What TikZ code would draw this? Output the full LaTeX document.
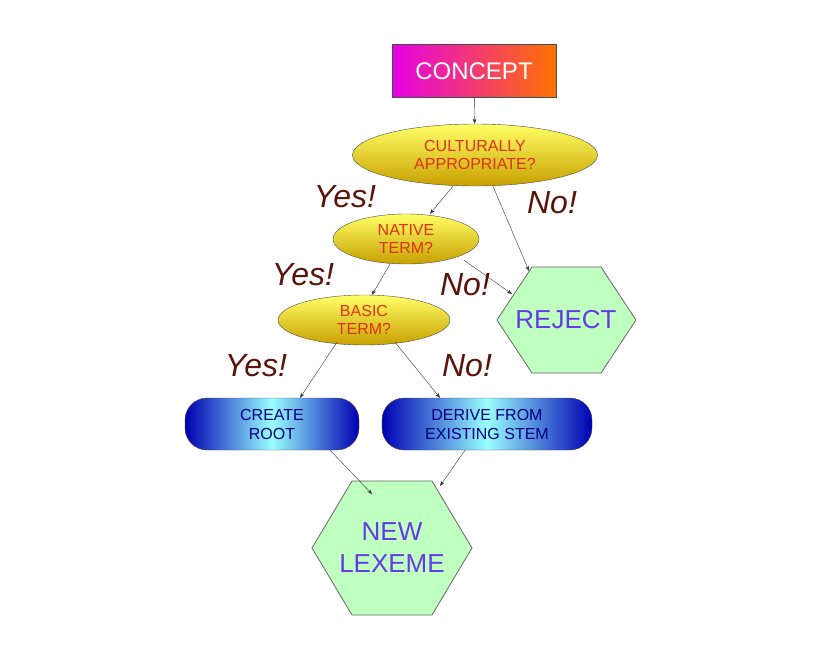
\documentclass[tikz,border=0pt]{standalone}
\usepackage{fontspec}
\setmainfont{Liberation Sans}
\usetikzlibrary{arrows.meta, positioning, shapes.geometric, calc}
\definecolor{ans_brown}{RGB}{90, 20, 10}
\definecolor{lex_purple}{RGB}{100, 60, 230}
\definecolor{q_red}{RGB}{220, 50, 20}
\definecolor{q_gold}{RGB}{200, 160, 0}
\begin{document}
\begin{tikzpicture}[x=1pt, y=-1pt,
        qs/.style={ellipse, draw=black!70, top color=yellow!60!white,
                   bottom color=q_gold, text=q_red,
                   inner sep=0pt, align=center, font=\fontsize{16}{18}\selectfont},
        act/.style={rectangle, rounded corners=22pt, draw=black!70,
                    left color=blue!70!black, right color=blue!70!black,
                    middle color=cyan!40!white, text=blue!50!black,
                    inner sep=0pt, align=center, font=\fontsize{16}{19}\selectfont},
        ans/.style={font=\itshape\fontsize{32}{34}\selectfont, text=ans_brown},
        hexfill/.style={draw=black!60, fill=green!25!white, line width=0.8pt},
        lbl/.style={text=lex_purple, align=center},
        arr/.style={-{Stealth[length=5pt]}, black!80}]
  \useasboundingbox (0,0) rectangle (820,672);
  % start
  \node[draw=black!70, left color=magenta!90!black, right color=orange!90!red,
        minimum width=164pt, minimum height=53pt, text=white,
        font=\fontsize{24}{26}\selectfont] (concept) at (474,71) {CONCEPT};
  % questions
  \node[qs, minimum width=245pt, minimum height=62pt] (cult) at (475,155)
    {CULTURALLY\\APPROPRIATE?};
  \node[qs, minimum width=146pt, minimum height=50pt] (native) at (406,239)
    {NATIVE\\TERM?};
  \node[qs, minimum width=172pt, minimum height=50pt] (basic) at (364,320)
    {BASIC\\TERM?};
  % reject / new lexeme
  \draw[hexfill] (497,320) -- (532,267) -- (601,267) -- (636,320)
    -- (601,373) -- (532,373) -- cycle;
  \node[lbl, font=\fontsize{26}{28}\selectfont] (reject) at (566,320) {REJECT};
  \draw[hexfill] (312,548) -- (352,481) -- (432,481) -- (472,548)
    -- (432,615) -- (352,615) -- cycle;
  \node[lbl, font=\fontsize{26}{32}\selectfont] (lexeme) at (392,548) {NEW\\LEXEME};
  \coordinate (rejtl) at (529,271);
  \coordinate (rejl) at (512,294);
  \coordinate (lextl) at (372,494);
  \coordinate (lextr) at (440,486);
  % actions
  \node[act, minimum width=174pt, minimum height=52pt] (root) at (272,424)
    {CREATE\\ROOT};
  \node[act, minimum width=210pt, minimum height=52pt] (derive) at (487,424)
    {DERIVE FROM\\EXISTING STEM};
  % connectors
  \draw[arr] (concept) -- (cult);
  \draw[arr] ($(cult.south)+(-22,0)$) -- ($(native.north)+(24,0)$);
  \draw[arr] ($(cult.south)+(18,0)$) -- (rejtl);
  \draw[arr] ($(native.south)+(58,-4)$) -- (rejl);
  \draw[arr] ($(native.south)+(-16,0)$) -- ($(basic.north)+(8,0)$);
  \draw[arr] ($(basic.south)+(-27,-3)$) -- ($(root.north)+(28,0)$);
  \draw[arr] ($(basic.south)+(31,-3)$) -- ($(derive.north)+(-47,0)$);
  \draw[arr] ($(root.south)+(58,0)$) -- (lextl);
  \draw[arr] ($(derive.south)+(-22,0)$) -- (lextr);
  % answers
  \node[ans] (yes1) at (345,197) {Yes!};
  \node[ans] (no1) at (552,203) {No!};
  \node[ans] (yes2) at (303,275) {Yes!};
  \node[ans] (no2) at (465,285) {No!};
  \node[ans] (yes3) at (256,366) {Yes!};
  \node[ans] (no3) at (467,366) {No!};
\end{tikzpicture}
\end{document}
